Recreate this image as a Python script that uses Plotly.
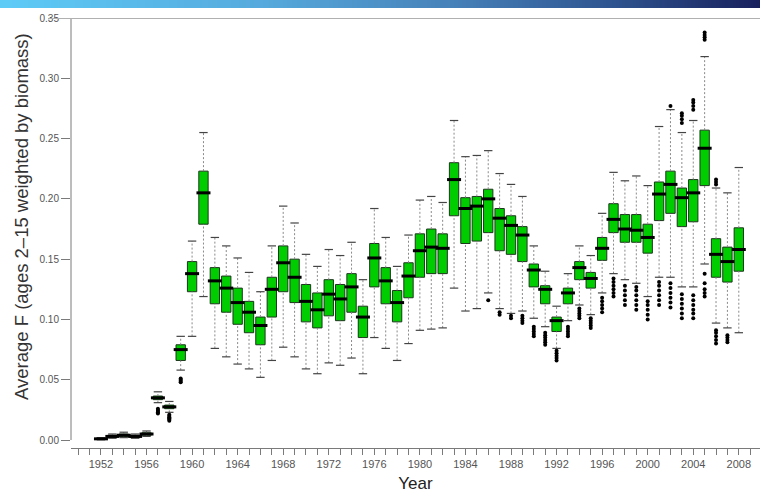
import plotly.graph_objects as go

years = list(range(1952, 2009))

q1 = [0.0005, 0.002, 0.003, 0.002, 0.004, 0.0335, 0.026, 0.066, 0.123, 0.179,
      0.113, 0.106, 0.096, 0.089, 0.079, 0.102, 0.123, 0.114, 0.098, 0.093,
      0.103, 0.099, 0.106, 0.085, 0.127, 0.113, 0.098, 0.118, 0.135, 0.138,
      0.138, 0.186, 0.163, 0.165, 0.172, 0.157, 0.154, 0.148, 0.127, 0.113,
      0.090, 0.113, 0.133, 0.126, 0.149, 0.172, 0.164, 0.164, 0.155, 0.182,
      0.188, 0.177, 0.181, 0.211, 0.135, 0.131, 0.140]
median = [0.001, 0.003, 0.004, 0.003, 0.005, 0.035, 0.0275, 0.075, 0.138, 0.205,
          0.132, 0.126, 0.114, 0.106, 0.095, 0.125, 0.147, 0.135, 0.115, 0.108,
          0.121, 0.117, 0.127, 0.102, 0.151, 0.132, 0.114, 0.136, 0.157, 0.160,
          0.159, 0.216, 0.192, 0.194, 0.200, 0.184, 0.178, 0.170, 0.141, 0.125,
          0.099, 0.122, 0.143, 0.134, 0.159, 0.183, 0.175, 0.174, 0.168, 0.204,
          0.212, 0.201, 0.205, 0.242, 0.154, 0.148, 0.158]
q3 = [0.0015, 0.004, 0.005, 0.004, 0.006, 0.0365, 0.029, 0.079, 0.148, 0.223,
      0.143, 0.136, 0.126, 0.115, 0.102, 0.135, 0.161, 0.150, 0.129, 0.122,
      0.133, 0.129, 0.138, 0.111, 0.163, 0.143, 0.124, 0.147, 0.171, 0.175,
      0.171, 0.230, 0.201, 0.202, 0.208, 0.192, 0.186, 0.177, 0.146, 0.128,
      0.102, 0.126, 0.148, 0.139, 0.168, 0.196, 0.187, 0.187, 0.179, 0.214,
      0.223, 0.209, 0.216, 0.257, 0.167, 0.160, 0.176]
whisker_low = [0.0002, 0.0015, 0.002, 0.0015, 0.003, 0.031, 0.023, 0.058, 0.086, 0.119,
               0.076, 0.069, 0.063, 0.059, 0.052, 0.066, 0.077, 0.069, 0.059, 0.055,
               0.064, 0.062, 0.068, 0.055, 0.085, 0.076, 0.066, 0.080, 0.091, 0.092,
               0.093, 0.126, 0.107, 0.109, 0.122, 0.109, 0.105, 0.107, 0.101, 0.094,
               0.076, 0.099, 0.112, 0.104, 0.122, 0.138, 0.133, 0.130, 0.119, 0.135,
               0.135, 0.127, 0.127, 0.146, 0.097, 0.093, 0.089]
whisker_high = [0.002, 0.005, 0.0065, 0.005, 0.0075, 0.040, 0.032, 0.086, 0.165, 0.255,
                0.168, 0.161, 0.151, 0.139, 0.123, 0.161, 0.194, 0.180, 0.154, 0.144,
                0.158, 0.153, 0.164, 0.133, 0.192, 0.168, 0.144, 0.170, 0.199, 0.202,
                0.197, 0.265, 0.235, 0.236, 0.240, 0.221, 0.212, 0.202, 0.161, 0.140,
                0.111, 0.138, 0.161, 0.153, 0.188, 0.222, 0.215, 0.219, 0.211, 0.260,
                0.274, 0.255, 0.265, 0.318, 0.209, 0.205, 0.226]

outlier_groups = [
    (1957, [0.022, 0.023, 0.024, 0.025, 0.026]),
    (1958, [0.016, 0.017, 0.018, 0.019, 0.020, 0.021]),
    (1959, [0.048, 0.049, 0.050, 0.051]),
    (1986, [0.116]),
    (1987, [0.104, 0.106]),
    (1988, [0.101, 0.103]),
    (1989, [0.097, 0.099, 0.101, 0.103]),
    (1990, [0.086, 0.088, 0.090, 0.092, 0.094]),
    (1991, [0.079, 0.081, 0.083, 0.085, 0.087, 0.089]),
    (1992, [0.066, 0.068, 0.070, 0.072, 0.074]),
    (1993, [0.086, 0.088, 0.090, 0.092, 0.094]),
    (1994, [0.101, 0.103, 0.105, 0.107, 0.109]),
    (1995, [0.093, 0.095, 0.097, 0.099, 0.101]),
    (1996, [0.106, 0.109, 0.112, 0.115, 0.118]),
    (1997, [0.119, 0.122, 0.125, 0.128, 0.131, 0.134]),
    (1998, [0.112, 0.116, 0.120, 0.124, 0.128]),
    (1999, [0.108, 0.112, 0.116, 0.120, 0.124, 0.127]),
    (2000, [0.100, 0.104, 0.108, 0.112, 0.115]),
    (2001, [0.112, 0.116, 0.120, 0.124, 0.128, 0.131]),
    (2002, [0.110, 0.114, 0.118, 0.122, 0.126, 0.130, 0.277]),
    (2003, [0.101, 0.105, 0.109, 0.113, 0.117, 0.121, 0.263, 0.266, 0.269, 0.271]),
    (2004, [0.101, 0.105, 0.108, 0.112, 0.116, 0.120, 0.274, 0.277, 0.280, 0.282]),
    (2005, [0.119, 0.122, 0.125, 0.130, 0.138, 0.332, 0.334, 0.336, 0.338]),
    (2006, [0.080, 0.083, 0.086, 0.089, 0.091, 0.212, 0.214, 0.216]),
    (2007, [0.081, 0.083, 0.085, 0.087]),
]

y_ticks = [0.00, 0.05, 0.10, 0.15, 0.20, 0.25, 0.30, 0.35]
x_tick_start, x_tick_step = 1952, 4

banner_colors = [[0.0, "#5ecbf7"], [0.35, "#56a9dc"], [0.6, "#4680b8"],
                 [0.8, "#2f5590"], [1.0, "#18205c"]]

BOX_FILL = "#00CD00"
BOX_LINE = "#1c361c"
WHISKER = "#8a8a8a"
AXIS = "#7a7a7a"

W, H = 760, 493
L_PX, B_PX = 71, 45
plot_h = H - B_PX

fig = go.Figure()

# dashed whiskers
wx, wy = [], []
for yr, a, b, c, d in zip(years, whisker_low, q1, q3, whisker_high):
    wx += [yr, yr, None, yr, yr, None]
    wy += [a, b, None, c, d, None]
fig.add_trace(go.Scatter(x=wx, y=wy, mode="lines",
                         line=dict(color=WHISKER, width=1, dash="2px,2px"),
                         hoverinfo="skip", showlegend=False))

# whisker caps
fig.add_trace(go.Scatter(x=years + years, y=whisker_low + whisker_high, mode="markers",
                         marker=dict(symbol="line-ew", size=6,
                                     line=dict(color="#444", width=1.2)),
                         hoverinfo="skip", showlegend=False))

# boxes
fig.add_trace(go.Box(x=years, q1=q1, median=median, q3=q3,
                     lowerfence=q1, upperfence=q3, width=0.82,
                     fillcolor=BOX_FILL, line=dict(color=BOX_LINE, width=1),
                     boxpoints=False, whiskerwidth=0, showlegend=False))

# medians
fig.add_trace(go.Scatter(x=years, y=median, mode="markers",
                         marker=dict(symbol="line-ew", size=10,
                                     line=dict(color="black", width=3)),
                         hoverinfo="skip", showlegend=False))

# outliers
ox, oy = [], []
for yr, vals in outlier_groups:
    ox += [yr] * len(vals)
    oy += vals
fig.add_trace(go.Scatter(x=ox, y=oy, mode="markers",
                         marker=dict(symbol="circle", size=4, color="black"),
                         hoverinfo="skip", showlegend=False))

# banner gradient
n = 200
fig.add_trace(go.Heatmap(z=[list(range(n))], x=list(range(n)), y=[0],
                         colorscale=banner_colors, showscale=False, zsmooth="best",
                         xaxis="x2", yaxis="y2", hoverinfo="skip"))

fig.update_layout(
    width=W, height=H,
    margin=dict(l=0, r=0, t=0, b=B_PX),
    paper_bgcolor="white", plot_bgcolor="white",
    font=dict(family="Liberation Sans, Arial, sans-serif"),
    xaxis=dict(domain=[L_PX / W, 1], range=[1949.37, 2009.86],
               tickmode="linear", tick0=x_tick_start, dtick=x_tick_step,
               ticks="outside", ticklen=6, tickcolor=AXIS,
               minor=dict(tick0=x_tick_start, dtick=1, ticks="outside", ticklen=6,
                          tickcolor=AXIS, showgrid=False),
               showline=True, linecolor=AXIS, linewidth=1,
               showgrid=False, zeroline=False,
               tickfont=dict(size=11, color="#555"),
               title=dict(text="Year", font=dict(size=17, color="#222"), standoff=8),
               automargin=False),
    yaxis=dict(domain=[0, (plot_h - 18) / plot_h], range=[-0.0066, 0.35],
               tickvals=y_ticks, tickformat=".2f",
               ticks="outside", ticklen=9, tickcolor=AXIS,
               showline=False, showgrid=False, zeroline=False,
               tickfont=dict(size=10, color="#555"),
               automargin=False),
    xaxis2=dict(domain=[0, 1], range=[0, n - 1], visible=False, anchor="y2"),
    yaxis2=dict(domain=[(plot_h - 8) / plot_h, 1], range=[-0.5, 0.5],
                visible=False, anchor="x2"),
    annotations=[
        dict(text="Average F (ages 2\u201315 weighted by biomass)", textangle=-90,
             xref="paper", yref="paper", x=21 / W, y=(plot_h - 217) / plot_h,
             xanchor="center", yanchor="middle", showarrow=False,
             font=dict(size=18.5, color="#333")),
    ],
    shapes=[
        dict(type="line", xref="paper", yref="y", x0=L_PX / W, x1=L_PX / W,
             y0=0, y1=0.35, line=dict(color=AXIS, width=1)),
        dict(type="line", xref="paper", yref="y", x0=48 / W, x1=1,
             y0=0.35, y1=0.35, line=dict(color="#b0b0b0", width=2)),
    ],
)

fig.write_html("out.html", config={"displayModeBar": False},
               post_script="document.body.style.margin='0';document.body.style.overflow='hidden';")
